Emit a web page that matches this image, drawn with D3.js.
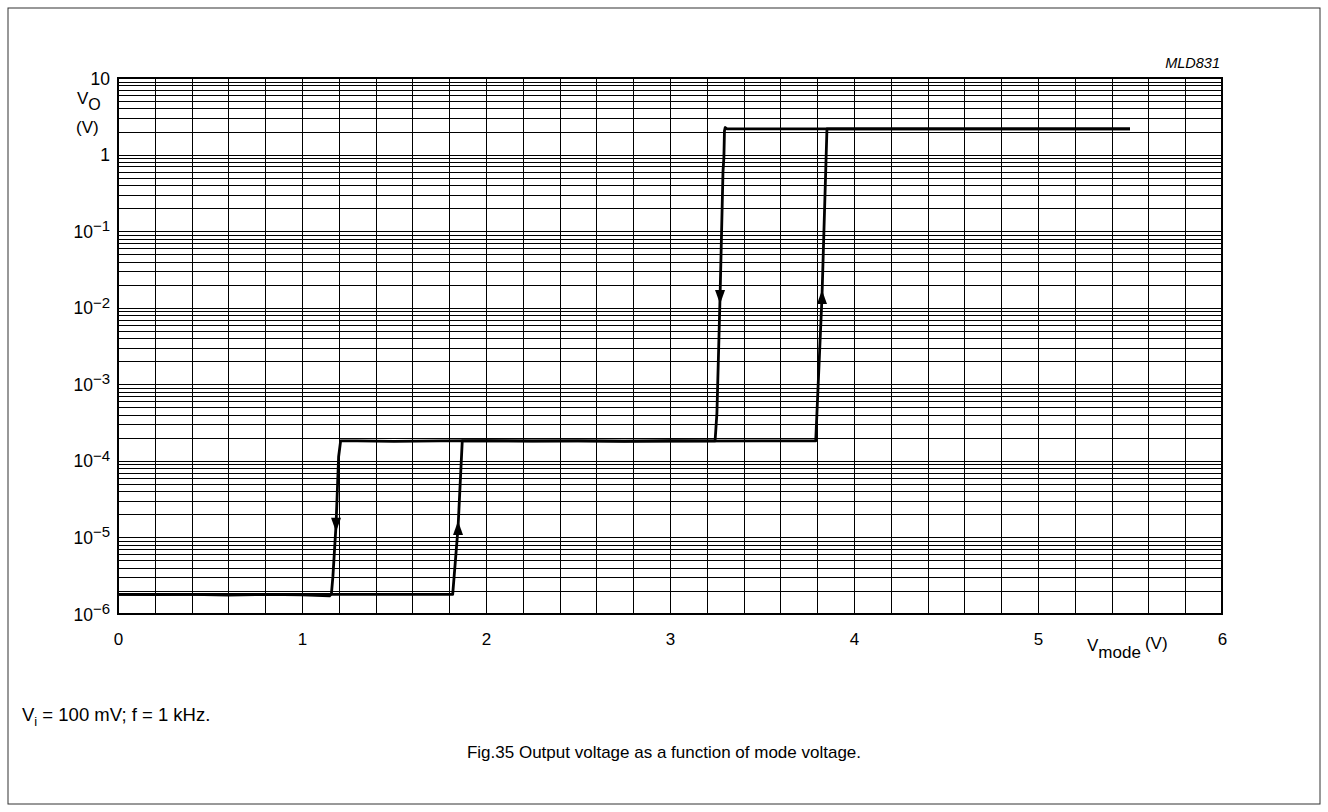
<!DOCTYPE html>
<html lang="en">
<head>
<meta charset="UTF-8" />
<script src="https://d3js.org/d3.v7.min.js"></script>
<title>Fig.35 Output voltage vs mode voltage</title>
<style>
  body { margin: 0; background: #fff; }
  text { font-family: "Liberation Sans", Arial, sans-serif; fill: #000; }
</style>
</head>
<body>
<script>
const width = 1328;
const height = 812;

// x ticks (V) and y decades (V)
const xTicks = [0, 1, 2, 3, 4, 5, 6];
const yDecades = [-6, -5, -4, -3, -2, -1, 0, 1];

// sweep with falling mode voltage (arrows pointing down)
const sweepDown = [
  [5.50, 2.16], [4.50, 2.16], [3.60, 2.16], [3.31, 2.16], [3.300, 2.25],
  [3.296, 2.05], [3.293, 0.93], [3.288, 0.60], [3.272, 0.0138],
  [3.255, 4.2e-4], [3.245, 1.82e-4], [3.0, 1.83e-4], [2.75, 1.80e-4],
  [2.5, 1.82e-4], [2.25, 1.81e-4], [2.0, 1.83e-4], [1.75, 1.82e-4],
  [1.5, 1.80e-4], [1.3, 1.82e-4], [1.210, 1.82e-4], [1.199, 1.13e-4],
  [1.185, 1.46e-5], [1.168, 3.1e-6], [1.160, 1.85e-6], [1.150, 1.72e-6],
  [1.0, 1.78e-6], [0.8, 1.80e-6], [0.6, 1.77e-6], [0.4, 1.80e-6],
  [0.2, 1.79e-6], [0, 1.80e-6]
];

// sweep with rising mode voltage (arrows pointing up)
const sweepUp = [
  [0, 1.80e-6], [1.0, 1.80e-6], [1.5, 1.80e-6], [1.819, 1.80e-6],
  [1.848, 1.33e-5], [1.871, 1.82e-4], [2.5, 1.82e-4], [3.0, 1.81e-4],
  [3.5, 1.82e-4], [3.792, 1.82e-4], [3.826, 0.0138], [3.853, 2.16],
  [4.5, 2.16], [5.50, 2.16]
];

// arrow markers: [V_mode, V_o, direction]
const arrows = [
  [1.185, 1.46e-5, "down"], [3.272, 0.0138, "down"],
  [1.848, 1.33e-5, "up"], [3.826, 0.0138, "up"]
];

const margin = { left: 118, right: 106, top: 78, bottom: 198 };

const svg = d3.select("body").append("svg")
  .attr("width", width)
  .attr("height", height);

// outer frame
svg.append("rect")
  .attr("x", 8).attr("y", 8)
  .attr("width", width - 16).attr("height", height - 16)
  .attr("fill", "none").attr("stroke", "#333").attr("stroke-width", 1);

const xScale = d3.scaleLinear().domain([0, 6]).range([margin.left, width - margin.right]);
const yScale = d3.scaleLog().domain([1e-6, 10]).range([height - margin.bottom, margin.top]);

// minor grid values
const xGrid = d3.range(0, 30).map(i => i * 0.2);
const yGrid = [];
yDecades.slice(0, -1).forEach(e => {
  for (let m = 1; m < 10; m++) yGrid.push(m * Math.pow(10, e));
});

const grid = svg.append("g").attr("shape-rendering", "crispEdges");

grid.append("g")
  .attr("transform", "translate(0," + yScale(1e-6) + ")")
  .call(d3.axisBottom(xScale).tickValues(xGrid).tickSize(-(yScale(1e-6) - yScale(10))).tickFormat(""))
  .call(g => g.select(".domain").remove())
  .selectAll("line").attr("stroke", "#000").attr("stroke-width", 1);

grid.append("g")
  .attr("transform", "translate(" + xScale(0) + ",0)")
  .call(d3.axisLeft(yScale).tickValues(yGrid).tickSize(-(xScale(6) - xScale(0))).tickFormat(""))
  .call(g => g.select(".domain").remove())
  .selectAll("line").attr("stroke", "#000").attr("stroke-width", 1);

grid.append("rect")
  .attr("x", xScale(0)).attr("y", yScale(10))
  .attr("width", xScale(6) - xScale(0))
  .attr("height", yScale(1e-6) - yScale(10))
  .attr("fill", "none").attr("stroke", "#000").attr("stroke-width", 1.2);

// x tick labels
const xAxis = svg.append("g")
  .attr("transform", "translate(0," + (yScale(1e-6) + 16) + ")")
  .call(d3.axisBottom(xScale).tickValues(xTicks).tickSize(0).tickFormat(d3.format("d")));
xAxis.select(".domain").remove();
xAxis.selectAll("text")
  .attr("font-family", "Liberation Sans, Arial, sans-serif")
  .attr("font-size", 17).attr("fill", "#000");

// y tick labels (10^n)
const yAxis = svg.append("g")
  .attr("transform", "translate(" + (xScale(0) - 8) + ",0)")
  .call(d3.axisLeft(yScale).tickValues(yDecades.map(e => Math.pow(10, e))).tickSize(0).tickFormat(""));
yAxis.select(".domain").remove();
yAxis.selectAll(".tick text").remove();
yAxis.selectAll(".tick").each(function (d) {
  const e = Math.round(Math.log10(d));
  const t = d3.select(this).append("text")
    .attr("text-anchor", "end")
    .attr("dy", "0.35em")
    .attr("font-size", 17.5);
  if (e === 0) t.text("1");
  else if (e === 1) t.text("10");
  else {
    t.append("tspan").text("10");
    t.append("tspan").attr("dy", "-0.45em").attr("font-size", 15).text("\u2212" + (-e));
  }
});

// y axis title
const yt = svg.append("text").attr("x", 77).attr("y", 104).attr("font-size", 17);
yt.append("tspan").text("V");
yt.append("tspan").attr("dy", 6).attr("font-size", 16).text("O");
svg.append("text").attr("x", 76).attr("y", 133).attr("font-size", 17).text("(V)");

// x axis title
const xt = svg.append("text").attr("x", 1087).attr("y", 651).attr("font-size", 17);
xt.append("tspan").text("V");
xt.append("tspan").attr("dy", 7).attr("font-size", 17).text("mode");
xt.append("tspan").attr("dy", -9).attr("dx", 4).attr("font-size", 17).text("(V)");

svg.append("text")
  .attr("x", xScale(6) - 2).attr("y", 68)
  .attr("text-anchor", "end").attr("font-size", 14.5).attr("font-style", "italic")
  .text("MLD831");

// curves
const line = d3.line().x(d => xScale(d[0])).y(d => yScale(d[1]));
[sweepDown, sweepUp].forEach(s => {
  svg.append("path")
    .datum(s)
    .attr("d", line)
    .attr("fill", "none")
    .attr("stroke", "#000")
    .attr("stroke-width", 2.8)
    .attr("stroke-linejoin", "round");
});

// arrowheads
svg.selectAll(".arrow")
  .data(arrows)
  .enter().append("path")
  .attr("class", "arrow")
  .attr("transform", d => "translate(" + xScale(d[0]) + "," + yScale(d[1]) + ")")
  .attr("d", d => d[2] === "down" ? "M-5,-7 L5,-7 L0,7 Z" : "M-5,7 L5,7 L0,-7 Z")
  .attr("fill", "#000");

// notes
const note = svg.append("text").attr("x", 22).attr("y", 721).attr("font-size", 18.5);
note.append("tspan").text("V");
note.append("tspan").attr("dy", 5).attr("font-size", 13).text("i");
note.append("tspan").attr("dy", -5).text(" = 100 mV; f = 1 kHz.");

svg.append("text")
  .attr("x", 664).attr("y", 758)
  .attr("text-anchor", "middle").attr("font-size", 17)
  .text("Fig.35  Output voltage as a function of mode voltage.");
</script>
</body>
</html>
